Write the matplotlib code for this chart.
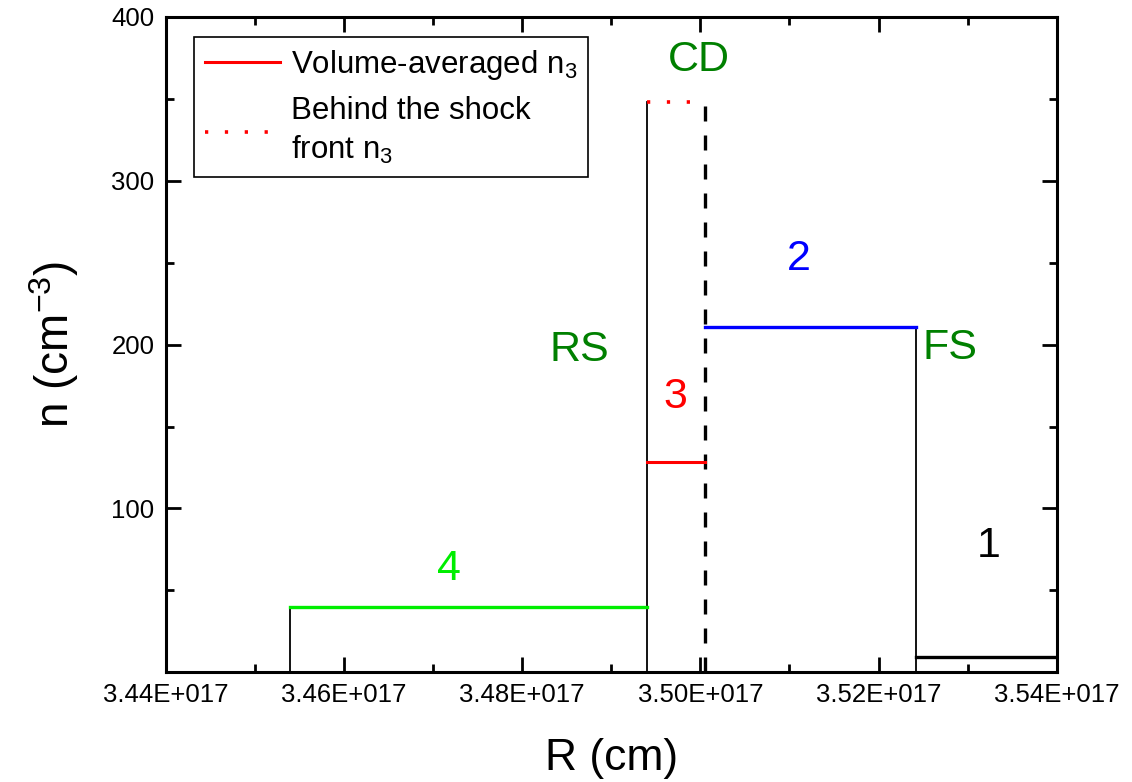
import matplotlib
matplotlib.use("Agg")
import matplotlib.pyplot as plt
from matplotlib.lines import Line2D
from matplotlib.ticker import FuncFormatter, MultipleLocator

plt.rcParams['font.family'] = ['Liberation Sans', 'DejaVu Sans']
plt.rcParams['mathtext.fontset'] = 'custom'
plt.rcParams['mathtext.rm'] = 'Liberation Sans'
plt.rcParams['mathtext.default'] = 'regular'

# Region boundaries (cm)
r_start4 = 3.45395e17
r_rs = 3.49398e17
r_cd = 3.50053e17
r_fs = 3.52421e17
r_end = 3.54e17

# Densities (cm^-3)
n4 = 40.0
n3_avg = 128.3
n3_shock = 348.3
n2 = 210.7
n1 = 9.3

x_ticks = [3.44e17, 3.46e17, 3.48e17, 3.50e17, 3.52e17, 3.54e17]
y_ticks = [100, 200, 300, 400]

DOT = (0, (0.9, 4.6))
DASH = (0, (4.5, 4.2))

fig = plt.figure(figsize=(11.32, 7.82), dpi=100)
ax = fig.add_axes([0.1464, 0.1403, 0.7871, 0.8380])

# colored levels
ax.plot([r_start4, r_rs], [n4, n4], color='#00ee00', lw=2.4, zorder=3)
ax.plot([r_rs, r_cd], [n3_avg, n3_avg], color='red', lw=2.2, zorder=3)
ax.plot([r_rs, r_cd], [n3_shock, n3_shock], color='red', lw=2.6, ls=DOT, zorder=3)
ax.plot([r_cd, r_fs], [n2, n2], color='blue', lw=2.4, zorder=3)
ax.plot([r_fs, r_end], [n1, n1], color='black', lw=2.4, zorder=3)

# vertical boundaries
ax.plot([r_start4, r_start4], [0, n4], color='black', lw=1.3)
ax.plot([r_rs, r_rs], [0, n3_shock], color='black', lw=1.3)
ax.plot([r_cd, r_cd], [0, n3_shock], color='black', lw=2.4, ls=DASH)
ax.plot([r_fs, r_fs], [0, n2], color='black', lw=1.3)

# labels
green = '#008000'
fs_lbl = 31
ax.text(3.4998e17, 374, 'CD', color=green, fontsize=fs_lbl, ha='center', va='center')
ax.text(3.4864e17, 197, 'RS', color=green, fontsize=fs_lbl, ha='center', va='center')
ax.text(3.5280e17, 198, 'FS', color=green, fontsize=fs_lbl, ha='center', va='center')
ax.text(3.5111e17, 252, '2', color='blue', fontsize=fs_lbl, ha='center', va='center')
ax.text(3.4972e17, 168, '3', color='red', fontsize=fs_lbl, ha='center', va='center')
ax.text(3.4718e17, 63, '4', color='#00ee00', fontsize=fs_lbl, ha='center', va='center')
ax.text(3.5324e17, 77, '1', color='black', fontsize=fs_lbl, ha='center', va='center')

ax.set_xlim(3.44e17, 3.54e17)
ax.set_ylim(0, 400)
ax.set_xticks(x_ticks)
ax.set_yticks(y_ticks)
ax.xaxis.set_minor_locator(MultipleLocator(0.01e17))
ax.yaxis.set_minor_locator(MultipleLocator(50))
ax.xaxis.set_major_formatter(FuncFormatter(lambda v, p: f"{v/1e17:.2f}E+017"))
ax.tick_params(which='both', direction='in', top=True, right=True, width=2, labelsize=18.5)
ax.tick_params(which='major', length=11, pad=8)
ax.tick_params(which='minor', length=6)
for s in ax.spines.values():
    s.set_linewidth(2.2)

ax.set_xlabel('R (cm)', fontsize=32, labelpad=22)
ax.set_ylabel('n (cm$^{-3}$)', fontsize=33, labelpad=22)

handles = [Line2D([], [], color='red', lw=2.2),
           Line2D([], [], color='red', lw=2.6, ls=DOT)]
leg = ax.legend(handles, ['Volume-averaged n$_3$', 'Behind the shock\nfront n$_3$'],
                loc='upper left', bbox_to_anchor=(0.032, 0.97), borderaxespad=0,
                fontsize=22.5, fancybox=False, framealpha=1, edgecolor='black',
                handlelength=2.4, labelspacing=0.45, borderpad=0.35, handletextpad=0.35)
leg.get_frame().set_linewidth(1.2)
for t in leg.get_texts():
    t.set_linespacing(1.35)

fig.savefig('out.png', dpi=100)
